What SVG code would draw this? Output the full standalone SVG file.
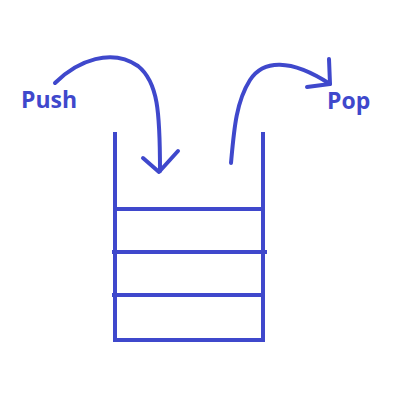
<svg xmlns="http://www.w3.org/2000/svg" width="402" height="409" viewBox="0 0 402 409">
<style>
.ln{stroke:#3F48CC;stroke-width:4;fill:none;stroke-linecap:butt}
.cv{stroke:#3F48CC;stroke-width:4;fill:none;stroke-linecap:round;stroke-linejoin:round}
.t{font-family:"Open Sans","Noto Sans",sans-serif;font-weight:bold;font-size:23px;fill:#3F48CC}
</style>
<rect width="402" height="409" fill="#fff"/>
<g id="stack">
<path class="ln" d="M115 132 V340 H263 V132"/>
<line class="ln" x1="115" y1="209" x2="263" y2="209"/>
<line class="ln" x1="112" y1="252" x2="267" y2="252"/>
<line class="ln" x1="112" y1="295" x2="263" y2="295"/>
</g>
<g id="push">
<text class="t" x="21" y="108">Push</text>
</g>
<g id="pop">
<text class="t" x="327" y="109">Pop</text>
</g>
<g id="connectors">
<path class="cv" d="M55 83 C78 60 112 48 138 66 C158 82 160 112 160 171"/>
<path class="cv" d="M143 158 L159 172 L178 151"/>
<path class="cv" d="M231 163 C234 130 236 102 250 80 C263 60 290 58 330 84"/>
<path class="cv" d="M329 59 L330 84 L307 87"/>
</g>
</svg>
